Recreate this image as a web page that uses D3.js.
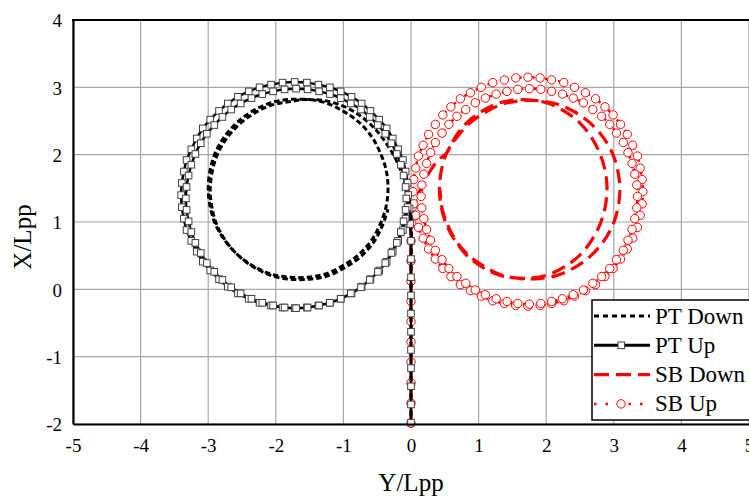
<!DOCTYPE html>
<meta charset="utf-8">
<style>
body { margin: 0; background: #fff; }
text { font-family: "Liberation Serif", "Times New Roman", serif; fill: #000; }
.grid line { stroke: #a6a6a6; stroke-width: 1.2; }
</style>
<svg width="749" height="499"></svg>
<script src="https://d3js.org/d3.v7.min.js"></script>
<script>
var xTicks = [-5, -4, -3, -2, -1, 0, 1, 2, 3, 4, 5];
var yTicks = [-2, -1, 0, 1, 2, 3, 4];
var seriesNames = ["PT Down", "PT Up", "SB Down", "SB Up"];

// points are [Y/Lpp, X/Lpp]
var ptDown = [[0,-2],[0,-1],[0,0],[0,1.1],[-0.03,1.35],[-0.10,1.62],[-0.20,1.88],[-0.34,2.13],[-0.52,2.37],[-0.74,2.57],[-1.00,2.72],[-1.27,2.80],
  [-1.53,2.82],[-1.81,2.82],[-2.08,2.77],[-2.34,2.65],[-2.56,2.49],[-2.75,2.28],[-2.89,2.04],[-2.97,1.78],[-3.00,1.50],[-2.97,1.22],[-2.89,0.96],[-2.75,0.72],[-2.56,0.51],[-2.34,0.35],[-2.08,0.23],[-1.81,0.18],[-1.53,0.18],[-1.26,0.23],[-1.01,0.35],[-0.78,0.51],[-0.59,0.72],[-0.46,0.96],[-0.37,1.22],[-0.34,1.50],[-0.37,1.78],[-0.46,2.04],[-0.59,2.28],[-0.78,2.49],[-1.01,2.65],[-1.26,2.77],[-1.53,2.82],
  [-1.78,2.79],[-2.05,2.74],[-2.31,2.62],[-2.53,2.46],[-2.72,2.25],[-2.86,2.01],[-2.94,1.75],[-2.97,1.47],[-2.94,1.19],[-2.86,0.93],[-2.72,0.69],[-2.53,0.48],[-2.31,0.32],[-2.05,0.20],[-1.78,0.15],[-1.50,0.15],[-1.23,0.20],[-0.98,0.32],[-0.75,0.48],[-0.56,0.69],[-0.43,0.93],[-0.34,1.19]];

var ptUp = [[0,-1.98],[0,-1.71],[0,-1.44],[0,-1.17],[0,-0.90],[0,-0.63],[0,-0.36],[0,-0.09],[0,0.18],[0,0.45],[0,0.72],[-0.01,0.97],[-0.02,1.20],
  [-0.04,1.40],[-0.05,1.58],[-0.08,1.75],[-0.12,1.92],[-0.19,2.08],[-0.27,2.24],[-0.36,2.39],[-0.47,2.52],[-0.60,2.65],[-0.73,2.76],[-0.88,2.86],[-1.04,2.94],[-1.20,3.00],[-1.37,3.04],[-1.54,3.07],[-1.72,3.08],[-1.90,3.07],[-2.07,3.04],[-2.24,3.00],[-2.40,2.94],[-2.56,2.86],[-2.71,2.76],[-2.84,2.65],[-2.97,2.52],[-3.08,2.39],[-3.17,2.24],[-3.25,2.08],[-3.32,1.92],[-3.36,1.75],[-3.39,1.58],[-3.40,1.40],[-3.39,1.22],[-3.36,1.05],[-3.32,0.88],[-3.25,0.72],[-3.17,0.56],[-3.08,0.41],[-2.97,0.28],[-2.84,0.15],[-2.71,0.04],[-2.56,-0.06],[-2.40,-0.14],[-2.24,-0.20],[-2.07,-0.24],[-1.90,-0.27],[-1.72,-0.28],[-1.54,-0.27],[-1.37,-0.24],[-1.20,-0.20],[-1.04,-0.14],[-0.88,-0.06],[-0.73,0.04],[-0.60,0.15],[-0.47,0.28],[-0.36,0.41],[-0.27,0.56],[-0.19,0.72],[-0.12,0.88],[-0.08,1.05],[-0.05,1.22],
  [-0.07,1.35],[-0.08,1.52],[-0.11,1.69],[-0.15,1.85],[-0.21,2.01],[-0.29,2.17],[-0.38,2.31],[-0.49,2.44],[-0.61,2.56],[-0.74,2.67],[-0.89,2.76],[-1.04,2.84],[-1.20,2.90],[-1.36,2.94],[-1.53,2.97],[-1.70,2.98],[-1.87,2.97],[-2.04,2.94],[-2.20,2.90],[-2.36,2.84],[-2.52,2.76],[-2.66,2.67],[-2.79,2.56],[-2.91,2.44],[-3.02,2.31],[-3.11,2.17],[-3.19,2.01],[-3.25,1.85],[-3.29,1.69],[-3.32,1.52],[-3.33,1.35],[-3.32,1.18],[-3.29,1.01],[-3.25,0.85],[-3.19,0.69],[-3.11,0.54],[-3.02,0.39],[-2.91,0.26],[-2.79,0.14],[-2.66,0.03],[-2.52,-0.06],[-2.36,-0.14],[-2.20,-0.20],[-2.04,-0.24],[-1.87,-0.27],[-1.70,-0.28],[-1.53,-0.27],[-1.36,-0.24],[-1.20,-0.20],[-1.04,-0.14],[-0.89,-0.06],[-0.74,0.03],[-0.61,0.14],[-0.49,0.26],[-0.38,0.39],[-0.29,0.54],[-0.21,0.69],[-0.15,0.85],[-0.11,1.01],[-0.08,1.18]];

var sbDown = [[0,-2],[0,-1],[0,0],[0,0.95],[0.02,1.15],[0.08,1.35],[0.17,1.55],[0.28,1.75],[0.40,1.92],
  [0.53,2.03],[0.66,2.27],[0.83,2.48],[1.04,2.64],[1.28,2.76],[1.53,2.81],[1.79,2.81],[2.04,2.76],[2.28,2.64],[2.49,2.48],[2.66,2.27],[2.79,2.03],[2.87,1.77],[2.90,1.49],[2.87,1.21],[2.79,0.95],[2.66,0.71],[2.49,0.50],[2.28,0.34],[2.04,0.22],[1.79,0.17],[1.53,0.17],[1.28,0.22],[1.04,0.34],[0.83,0.50],[0.66,0.71],[0.53,0.95],[0.45,1.21],[0.42,1.49],[0.45,1.77],[0.53,2.03],
  [0.68,2.26],[0.87,2.47],[1.10,2.63],[1.35,2.75],[1.62,2.80],[1.90,2.80],[2.17,2.75],[2.43,2.63],[2.65,2.47],[2.84,2.26],[2.98,2.02],[3.06,1.76],[3.09,1.48],[3.06,1.20],[2.98,0.94],[2.84,0.70],[2.65,0.49],[2.43,0.33],[2.17,0.21],[1.90,0.16],[1.62,0.16],[1.35,0.21],[1.10,0.33],[0.87,0.49],[0.68,0.70],[0.55,0.94],[0.46,1.20],[0.43,1.48]];

var sbUp = [[0,-1.99],[0,-1.69],[0,-1.39],[0,-1.08],[0,-0.78],[0,-0.48],[0,-0.18],[0,0.12],[0,0.42],[0,0.72],[0.01,0.98],[0.02,1.22],
  [0.03,1.45],[0.04,1.63],[0.07,1.80],[0.11,1.98],[0.18,2.14],[0.26,2.30],[0.36,2.45],[0.47,2.59],[0.59,2.71],[0.73,2.83],[0.88,2.92],[1.04,3.00],[1.21,3.07],[1.38,3.11],[1.55,3.14],[1.73,3.15],[1.91,3.14],[2.08,3.11],[2.26,3.07],[2.42,3.00],[2.58,2.92],[2.73,2.83],[2.87,2.71],[2.99,2.59],[3.10,2.45],[3.20,2.30],[3.28,2.14],[3.35,1.98],[3.39,1.80],[3.42,1.63],[3.43,1.45],[3.42,1.27],[3.39,1.10],[3.35,0.92],[3.28,0.76],[3.20,0.60],[3.10,0.45],[2.99,0.31],[2.87,0.19],[2.73,0.07],[2.58,-0.02],[2.42,-0.10],[2.26,-0.17],[2.08,-0.21],[1.91,-0.24],[1.73,-0.25],[1.55,-0.24],[1.38,-0.21],[1.21,-0.17],[1.04,-0.10],[0.88,-0.02],[0.73,0.07],[0.59,0.19],[0.47,0.31],[0.36,0.45],[0.26,0.60],[0.18,0.76],[0.11,0.92],[0.07,1.10],[0.04,1.27],
  [0.15,1.38],[0.16,1.55],[0.19,1.71],[0.23,1.87],[0.29,2.03],[0.36,2.18],[0.46,2.32],[0.56,2.45],[0.68,2.57],[0.81,2.67],[0.95,2.77],[1.10,2.84],[1.26,2.90],[1.42,2.94],[1.58,2.97],[1.75,2.98],[1.92,2.97],[2.08,2.94],[2.24,2.90],[2.40,2.84],[2.55,2.77],[2.69,2.67],[2.82,2.57],[2.94,2.45],[3.04,2.32],[3.14,2.18],[3.21,2.03],[3.27,1.87],[3.31,1.71],[3.34,1.55],[3.35,1.38],[3.34,1.21],[3.31,1.05],[3.27,0.89],[3.21,0.73],[3.14,0.58],[3.04,0.44],[2.94,0.31],[2.82,0.19],[2.69,0.09],[2.55,-0.01],[2.40,-0.08],[2.24,-0.14],[2.08,-0.18],[1.92,-0.21],[1.75,-0.22],[1.58,-0.21],[1.42,-0.18],[1.26,-0.14],[1.10,-0.08],[0.95,-0.01],[0.81,0.09],[0.68,0.19],[0.56,0.31],[0.46,0.44],[0.36,0.58],[0.29,0.73],[0.23,0.89],[0.19,1.05],[0.16,1.21]];

var serif = '"Liberation Serif", "Times New Roman", serif';
var svg = d3.select("svg");
var x = d3.scaleLinear().domain([-5, 5]).range([73, 749]);
var y = d3.scaleLinear().domain([-2, 4]).range([424, 20]);

// grid
var grid = svg.append("g").attr("class", "grid");
grid.selectAll("line.v").data(xTicks).enter().append("line")
    .attr("x1", function(d) { return x(d); }).attr("x2", function(d) { return x(d); })
    .attr("y1", y(-2)).attr("y2", y(4));
grid.selectAll("line.h").data(yTicks).enter().append("line")
    .attr("x1", x(-5)).attr("x2", x(5))
    .attr("y1", function(d) { return y(d); }).attr("y2", function(d) { return y(d); });

// series
var line = d3.line()
    .x(function(d) { return x(d[0]); })
    .y(function(d) { return y(d[1]); })
    .curve(d3.curveCatmullRom);

var plot = svg.append("g");

plot.append("path").datum(sbDown)
    .attr("d", line).attr("fill", "none")
    .attr("stroke", "#ff0000").attr("stroke-width", 3.2).attr("stroke-dasharray", "14,7");

plot.append("path").datum(sbUp)
    .attr("d", line).attr("fill", "none")
    .attr("stroke", "#ff0000").attr("stroke-width", 2.5).attr("stroke-dasharray", "2.5,4");
plot.append("g").selectAll("circle").data(sbUp).enter().append("circle")
    .attr("cx", function(d) { return x(d[0]); })
    .attr("cy", function(d) { return y(d[1]); })
    .attr("r", 4.2).attr("fill", "#fff").attr("stroke", "#ff0000").attr("stroke-width", 1);

plot.append("path").datum(ptDown)
    .attr("d", line).attr("fill", "none")
    .attr("stroke", "#000").attr("stroke-width", 3).attr("stroke-dasharray", "5.5,3");

plot.append("path").datum(ptUp)
    .attr("d", line).attr("fill", "none")
    .attr("stroke", "#000").attr("stroke-width", 2.5);
plot.append("g").selectAll("rect").data(ptUp).enter().append("rect")
    .attr("x", function(d) { return x(d[0]) - 3.3; })
    .attr("y", function(d) { return y(d[1]) - 3.3; })
    .attr("width", 6.6).attr("height", 6.6)
    .attr("fill", "#fff").attr("stroke", "#404040").attr("stroke-width", 1);

// axes
var fmt = function(d) { return String(d); };
var gx = svg.append("g").attr("transform", "translate(0," + y(-2) + ")")
    .call(d3.axisBottom(x).tickValues(xTicks).tickSize(0).tickPadding(15).tickFormat(fmt));
var gy = svg.append("g").attr("transform", "translate(" + x(-5) + ",0)")
    .call(d3.axisLeft(y).tickValues(yTicks).tickSize(0).tickPadding(11).tickFormat(fmt));
[gx, gy].forEach(function(g) {
  g.attr("font-family", null).attr("font-size", null);
  g.select(".domain").attr("stroke", "#000").attr("stroke-width", 2.2);
  g.selectAll("text").attr("fill", "#000")
      .style("font-family", serif).style("font-size", "19px");
});
gy.selectAll("text").attr("dy", "0.36em");
svg.append("line")
    .attr("x1", x(-5) - 1).attr("x2", x(5)).attr("y1", y(4)).attr("y2", y(4))
    .attr("stroke", "#000").attr("stroke-width", 2.2);

svg.append("text").attr("x", x(0)).attr("y", 491)
    .attr("text-anchor", "middle").style("font-size", "25px").text("Y/Lpp");
svg.append("text").attr("transform", "translate(31,237) rotate(-90)")
    .attr("text-anchor", "middle").style("font-size", "25px").text("X/Lpp");

// legend
var lg = svg.append("g");
lg.append("rect").attr("x", 592).attr("y", 300).attr("width", 170).attr("height", 120)
    .attr("fill", "#fff").attr("stroke", "#000").attr("stroke-width", 1.5);
var styles = [
  {stroke: "#000", width: 3, dash: "5,4"},
  {stroke: "#000", width: 3, dash: null},
  {stroke: "#ff0000", width: 3.2, dash: "15,7"},
  {stroke: "#ff0000", width: 2.5, dash: "2.5,9"}
];
seriesNames.forEach(function(name, i) {
  var yy = 316 + i * 29.3;
  var s = styles[i];
  lg.append("line").attr("x1", 594).attr("x2", 650).attr("y1", yy).attr("y2", yy)
      .attr("stroke", s.stroke).attr("stroke-width", s.width)
      .attr("stroke-dasharray", s.dash);
  if (i === 1) {
    lg.append("rect").attr("x", 618).attr("y", yy - 3.3).attr("width", 6.6).attr("height", 6.6)
        .attr("fill", "#fff").attr("stroke", "#404040").attr("stroke-width", 1);
  }
  if (i === 3) {
    lg.append("circle").attr("cx", 621).attr("cy", yy).attr("r", 4.2)
        .attr("fill", "#fff").attr("stroke", "#ff0000").attr("stroke-width", 1);
  }
  lg.append("text").attr("x", 655).attr("y", yy + 7.5).style("font-size", "23px").text(name);
});
</script>
